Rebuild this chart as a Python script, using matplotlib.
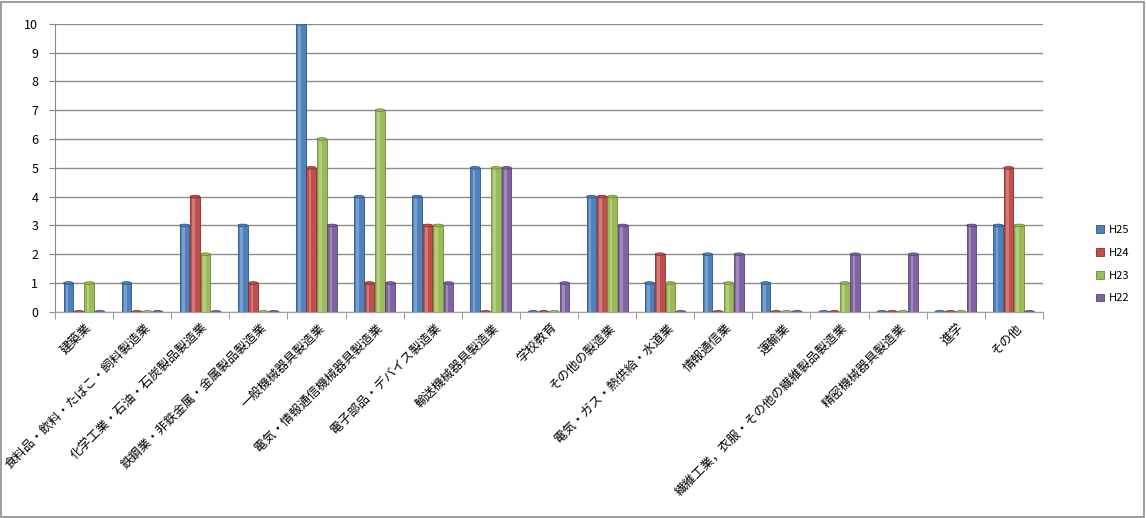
import matplotlib.pyplot as plt
import matplotlib.transforms as mtransforms
import numpy as np
from matplotlib.patches import Ellipse, Rectangle

plt.rcParams['font.family'] = ['Noto Sans CJK JP', 'DejaVu Sans']

categories = ['建築業', '食料品・飲料・たばこ・飼料製造業', '化学工業・石油・石炭製品製造業',
              '鉄鋼業・非鉄金属・金属製品製造業', '一般機械器具製造業', '電気・情報通信機械器具製造業',
              '電子部品・デバイス製造業', '輸送機械器具製造業', '学校教育', 'その他の製造業',
              '電気・ガス・熱供給・水道業', '情報通信業', '運輸業',
              '繊維工業，衣服・その他の繊維製品製造業', '精密機械器具製造業', '進学', 'その他']
h25 = [1, 1, 3, 3, 10, 4, 4, 5, 0, 4, 1, 2, 1, 0, 0, 0, 3]
h24 = [0, 0, 4, 1, 5, 1, 3, 0, 0, 4, 2, 0, 0, 0, 0, 0, 5]
h23 = [1, 0, 2, 0, 6, 7, 3, 5, 0, 4, 1, 1, 0, 1, 0, 0, 3]
h22 = [0, 0, 0, 0, 3, 1, 1, 5, 1, 3, 0, 2, 0, 2, 2, 3, 0]
series = [('H25', h25), ('H24', h24), ('H23', h23), ('H22', h22)]
colors = ['#4F81BD', '#C0504D', '#9BBB59', '#8064A2']
edges = ['#2C5585', '#8C2D2A', '#6B8A32', '#58427A']

fig = plt.figure(figsize=(11.46, 5.18), dpi=100)
ax = fig.add_axes([0.048, 0.398, 0.862, 0.556])

x = np.arange(len(categories))
w = 0.18
offsets = [-1.5 * w, -0.5 * w, 0.5 * w, 1.5 * w]

for (name, vals), c, ec, off in zip(series, colors, edges, offsets):
    xs = x + off
    ax.bar(xs, vals, width=w * 0.92, color=c, edgecolor=ec, linewidth=0.6, label=name, zorder=3)
    # lighter highlight stripe for a cylinder look
    ax.bar(xs - w * 0.12, vals, width=w * 0.25, color='white', alpha=0.25, linewidth=0, zorder=4)
    for xi, v in zip(xs, vals):
        ax.add_patch(Ellipse((xi, v), w * 0.92, 0.09, facecolor=c, edgecolor=ec,
                             linewidth=0.6, zorder=5))

ax.set_xlim(-0.5, len(categories) - 0.5)
ax.set_ylim(0, 10)
ax.set_yticks(range(0, 11))
ax.tick_params(axis='y', labelsize=9, length=4, color='#888888', pad=8)
ax.yaxis.grid(True, color='#8c8c8c', linewidth=1, zorder=0)
ax.set_axisbelow(True)

ax.set_xticks(np.arange(len(categories) + 1) - 0.5, minor=True)
ax.tick_params(axis='x', which='minor', length=5, color='#888888')
ax.set_xticks(x)
ax.set_xticklabels(categories, rotation=45, ha='right', va='center',
                   rotation_mode='anchor', fontsize=9)
ax.tick_params(axis='x', which='major', length=0, pad=10)
shift = mtransforms.ScaledTranslation(6 / 100, 0, fig.dpi_scale_trans)
for lbl in ax.get_xticklabels():
    lbl.set_transform(lbl.get_transform() + shift)

for s in ['top', 'right']:
    ax.spines[s].set_visible(False)
ax.spines['left'].set_color('#888888')
ax.spines['bottom'].set_color('#a0a0a0')

fig.legend(loc='center left', bbox_to_anchor=(0.948, 0.49), frameon=False,
           fontsize=8, handlelength=0.7, handleheight=0.7, labelspacing=1.15,
           handletextpad=0.4)

fig.add_artist(Rectangle((0.001, 0.002), 0.997, 0.995, transform=fig.transFigure,
                         fill=False, edgecolor='#8c8c8c', linewidth=1.2))

fig.savefig('out.png', dpi=100)
